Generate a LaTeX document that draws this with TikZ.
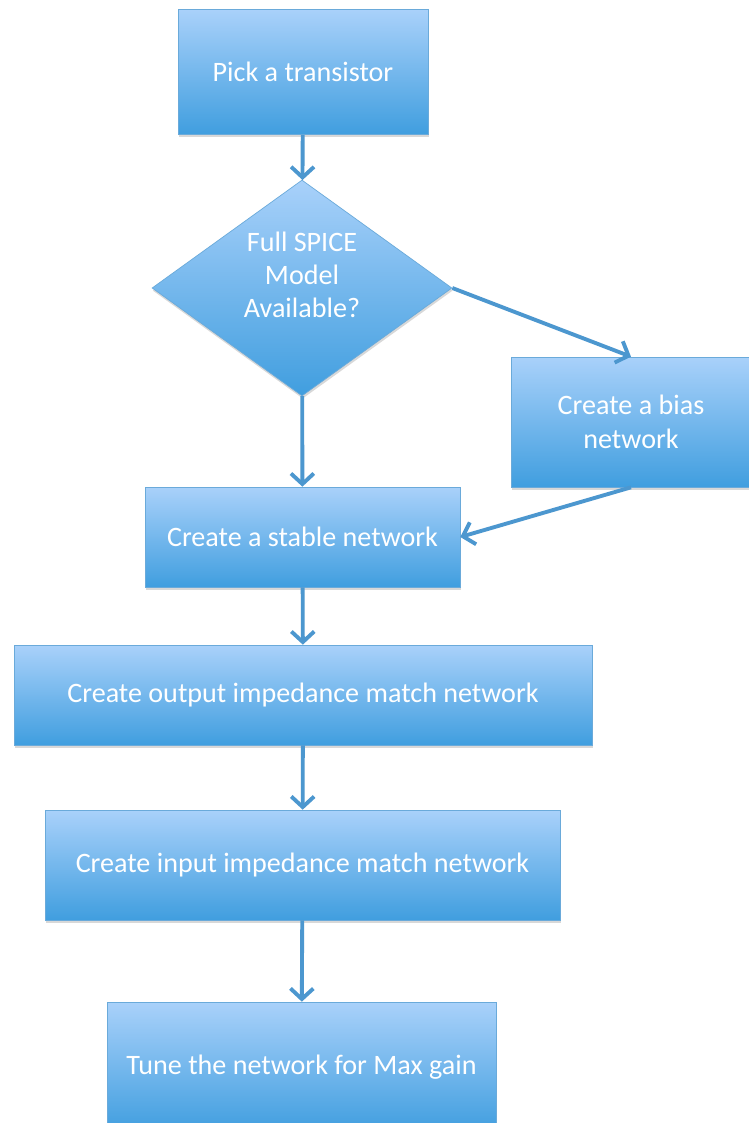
\documentclass[tikz,border=0pt]{standalone}
\usepackage{fontspec}
\setmainfont{Carlito}
\usepackage{xcolor}
\usepackage{tikz}
\usetikzlibrary{positioning, arrows.meta, shapes.geometric, shadows}

\definecolor{boxtop}{HTML}{A9D1FA}
\definecolor{boxbot}{HTML}{409EDF}
\definecolor{boxline}{HTML}{6AAADA}
\definecolor{flowc}{HTML}{4C97CF}

\begin{document}
\begin{tikzpicture}[x=0.02cm, y=-0.02cm,
    box/.style = {draw=boxline, thin, top color=boxtop, bottom color=boxbot, text=white, align=center, inner sep=0pt, font=\fontsize{16}{19}\selectfont, drop shadow={opacity=0.3, shadow xshift=0.4pt, shadow yshift=-1.5pt}},
    decision/.style = {box, diamond, shape aspect=1.4, minimum width=6cm, minimum height=4.32cm},
    flow/.style = {draw=flowc, line width=2.2pt, -{Straight Barb[length=6pt, width=13pt]}}]
    \fill[white] (0,0) rectangle (748,1123);
    \useasboundingbox (0,0) rectangle (748,1123);

    % nodes
    \node[box, minimum width=5cm, minimum height=2.5cm] (pick) at (303,72) {Pick a transistor};
    \node[decision] (spice) at (302,288) {Full SPICE\\Model\\Available?\\[-4pt]\mbox{}};
    \node[box, minimum width=4.8cm, minimum height=2.6cm] (bias) at (631,422) {Create a bias\\network};
    \node[box, minimum width=6.3cm, minimum height=2cm] (stable) at (302.5,537) {Create a stable network};
    \node[box, minimum width=11.56cm, minimum height=2cm] (output) at (303,695) {Create output impedance match network};
    \node[box, minimum width=10.3cm, minimum height=2.2cm] (input) at (302.5,865) {Create input impedance match network};
    \node[box, minimum width=7.78cm, minimum height=2.6cm] (tune) at (301.5,1067) {Tune the network for Max gain};

    % arrows
    \draw[flow] (pick) -- (spice);
    \draw[flow] (spice) -- (stable);
    \draw[flow] (spice.east) -- (bias.north);
    \draw[flow] (bias.south) -- (stable.east);
    \draw[flow] (stable) -- (output);
    \draw[flow] (output) -- (input);
    \draw[flow] (input) -- (tune);
\end{tikzpicture}
\end{document}
